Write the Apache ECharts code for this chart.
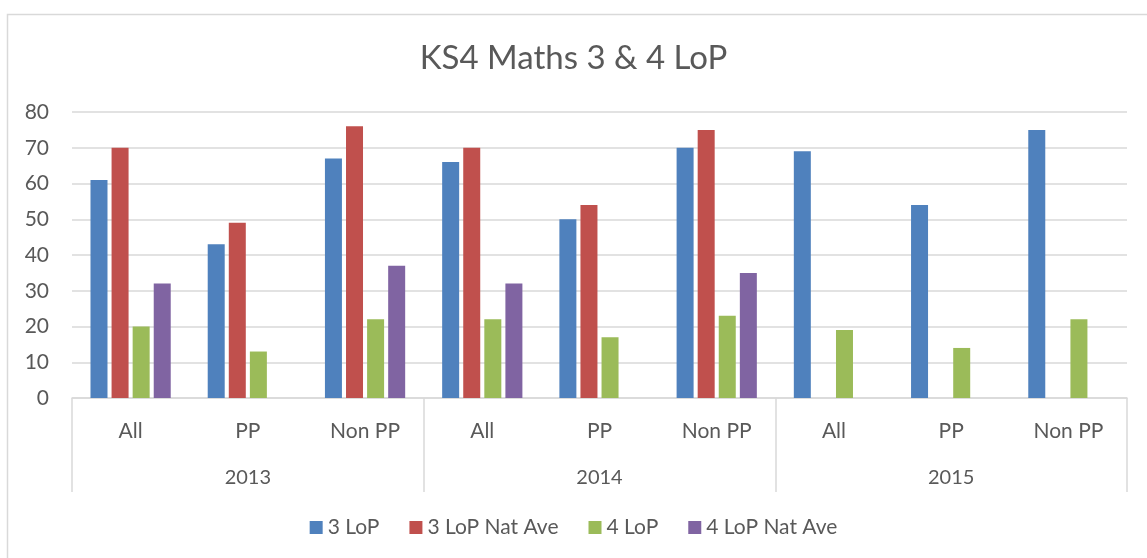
<!DOCTYPE html>
<html>
<head>
<meta charset="utf-8">
<script src="https://cdn.jsdelivr.net/npm/echarts@6/dist/echarts.min.js"></script>
<style>
  html, body { margin: 0; padding: 0; background: #fff; }
  #chart { width: 1147px; height: 558px; }
</style>
</head>
<body>
<div id="chart"></div>
<script>
const groups = ["All", "PP", "Non PP", "All", "PP", "Non PP", "All", "PP", "Non PP"];
const years = ["2013", "2014", "2015"];
const lop3 = [61, 43, 67, 66, 50, 70, 69, 54, 75];
const lop3Nat = [70, 49, 76, 70, 54, 75, null, null, null];
const lop4 = [20, 13, 22, 22, 17, 23, 19, 14, 22];
const lop4Nat = [32, null, 37, 32, null, 35, null, null, null];
const yTicks = [0, 10, 20, 30, 40, 50, 60, 70, 80];

const colors = ["#4F81BD", "#C0504D", "#9BBB59", "#8064A2"];
const font = "Lato, 'Open Sans', sans-serif";
const textColor = "#595959";
const lineColor = "#d9d9d9";

const chart = echarts.init(document.getElementById("chart"));

function bar(name, data, i) {
  return {
    name,
    type: "bar",
    xAxisIndex: 0,
    data,
    barWidth: 17,
    barGap: "24%",
    itemStyle: { color: colors[i] },
    animation: false,
  };
}

chart.setOption({
  textStyle: { fontFamily: font },
  title: {
    text: "KS4 Maths 3 & 4 LoP",
    left: "center",
    top: 37,
    textStyle: { fontFamily: font, fontSize: 33, fontWeight: "normal", color: textColor },
  },
  graphic: [{
    type: "rect",
    shape: { x: 7.5, y: 14.5, width: 1200, height: 600 },
    style: { fill: "none", stroke: lineColor, lineWidth: 1.5 },
    silent: true,
  }],
  legend: {
    bottom: 15,
    left: "center",
    icon: "rect",
    itemWidth: 13,
    itemHeight: 13,
    itemGap: 30,
    textStyle: { fontFamily: font, fontSize: 21, color: textColor },
    data: ["3 LoP", "3 LoP Nat Ave", "4 LoP", "4 LoP Nat Ave"],
  },
  grid: { left: 72, right: 20, top: 112, bottom: 160 },
  xAxis: [
    {
      type: "category",
      data: groups,
      position: "bottom",
      axisLine: { lineStyle: { color: lineColor, width: 1.5 } },
      axisTick: { show: false },
      axisLabel: { margin: 23, fontSize: 21, color: textColor, interval: 0 },
    },
    {
      type: "category",
      data: years,
      position: "bottom",
      axisLine: { show: false },
      axisTick: { show: true, length: 94, interval: 0, lineStyle: { color: lineColor, width: 1.5 } },
      axisLabel: { margin: 70, fontSize: 20, color: textColor, interval: 0 },
    },
  ],
  yAxis: {
    type: "value",
    min: yTicks[0],
    max: yTicks[yTicks.length - 1],
    interval: 10,
    axisLine: { show: false },
    axisTick: { show: false },
    axisLabel: { margin: 23, fontSize: 21, color: textColor },
    splitLine: { lineStyle: { color: lineColor, width: 1.5 } },
  },
  series: [
    bar("3 LoP", lop3, 0),
    bar("3 LoP Nat Ave", lop3Nat, 1),
    bar("4 LoP", lop4, 2),
    bar("4 LoP Nat Ave", lop4Nat, 3),
  ],
});
</script>
</body>
</html>
